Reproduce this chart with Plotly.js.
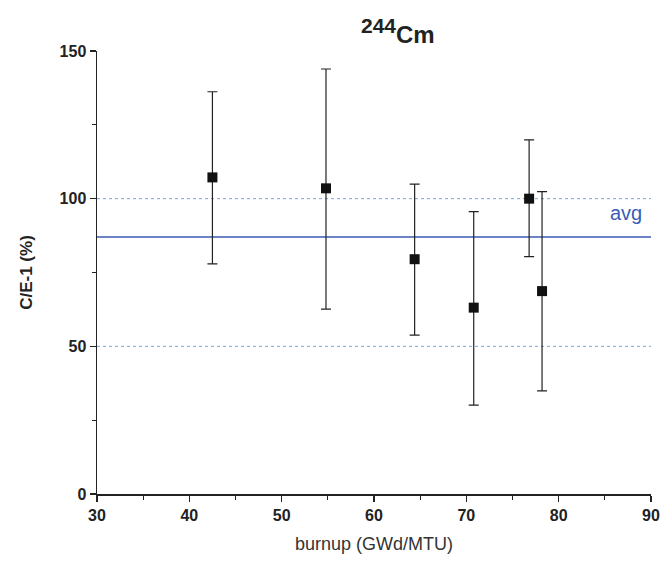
<!DOCTYPE html>
<html>
<head>
<meta charset="utf-8">
<script src="https://cdn.plot.ly/plotly-3.0.1.min.js"></script>
<style>html,body{margin:0;padding:0;background:#fff;}#chart{width:660px;height:565px;}</style>
</head>
<body>
<div id="chart"></div>
<script>
const burnup = [42.5, 54.8, 64.4, 70.8, 76.8, 78.2];
const ceValues = [107.2, 103.5, 79.5, 63.1, 100.0, 68.7];
const errUpper = [136.2, 143.9, 104.9, 95.6, 119.9, 102.4];
const errLower = [77.9, 62.6, 53.8, 30.1, 80.4, 34.9];
const avgValue = 87.0;
const bandValues = [100, 50];
const xRange = [30, 90];
const yRange = [0, 150];

const plus = errUpper.map((u, i) => u - ceValues[i]);
const minus = ceValues.map((v, i) => v - errLower[i]);

const font = "Liberation Sans, Arial, sans-serif";

const traces = [
  {x: xRange, y: [avgValue, avgValue], mode: 'lines', line: {color: '#3b5bb5', width: 1.6}, hoverinfo: 'skip', showlegend: false},
  {x: xRange, y: [bandValues[0], bandValues[0]], mode: 'lines', line: {color: '#7aa6d8', width: 1, dash: 'dot'}, showlegend: false},
  {x: xRange, y: [bandValues[1], bandValues[1]], mode: 'lines', line: {color: '#7aa6d8', width: 1, dash: 'dot'}, showlegend: false},
  {
    x: burnup, y: ceValues, mode: 'markers', type: 'scatter',
    marker: {symbol: 'square', size: 10, color: '#111'},
    error_y: {type: 'data', symmetric: false, array: plus, arrayminus: minus, color: '#222', thickness: 1.2, width: 5},
    showlegend: false
  }
];

const layout = {
  width: 660, height: 565,
  margin: {l: 97, r: 9, t: 51, b: 71},
  paper_bgcolor: '#fff', plot_bgcolor: '#fff',
  showlegend: false,
  title: {text: '<sup><span style="font-size:21px">244</span></sup>Cm', x: 0.543, xref: 'paper', xanchor: 'center', y: 0.938, yref: 'container', yanchor: 'middle',
    font: {family: font, size: 24, color: '#222', weight: 'bold'}},
  xaxis: {
    range: xRange, tickvals: [30,40,50,60,70,80,90], ticks: 'outside', ticklen: 6, tickwidth: 1.5, tickcolor: '#222',
    minor: {tickvals: [35,45,55,65,75,85], ticks: 'outside', ticklen: 4, tickwidth: 1.2, tickcolor: '#222'},
    showline: true, linecolor: '#222', linewidth: 1.5, showgrid: false, zeroline: false,
    tickfont: {family: font, size: 16, color: '#222', weight: 'bold'},
    title: {text: 'burnup (GWd/MTU)', font: {family: font, size: 18, color: '#333'}, standoff: 14}
  },
  yaxis: {
    range: yRange, tickvals: [0,50,100,150], ticks: 'outside', ticklen: 6, tickwidth: 1.5, tickcolor: '#222',
    minor: {tickvals: [25,75,125], ticks: 'outside', ticklen: 4, tickwidth: 1.2, tickcolor: '#222'},
    showline: true, linecolor: '#222', linewidth: 1.5, showgrid: false, zeroline: false,
    tickfont: {family: font, size: 16, color: '#222', weight: 'bold'},
    title: {text: 'C/E-1 (%)', font: {family: font, size: 17, color: '#222', weight: 'bold'}, standoff: 22}
  },
  annotations: [
    {text: 'avg', x: 87.3, y: avgValue, xref: 'x', yref: 'y', yshift: 24, showarrow: false,
     font: {family: font, size: 20, color: '#3b5bb5'}}
  ]
};

Plotly.newPlot('chart', traces, layout, {displayModeBar: false, staticPlot: true});
</script>
</body>
</html>
